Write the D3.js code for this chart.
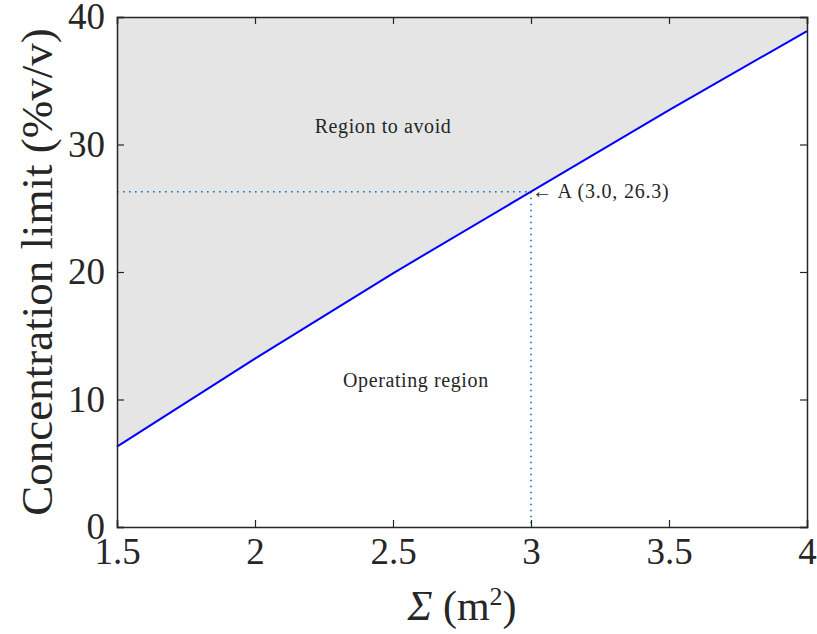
<!DOCTYPE html>
<html>
<head>
<meta charset="utf-8">
<script src="https://cdn.jsdelivr.net/npm/d3@7"></script>
<style>
  body { margin: 0; background: #fff; }
  svg text { font-family: "Liberation Serif", "DejaVu Serif", serif; fill: #262626; }
</style>
</head>
<body>
<div id="wrapper"></div>
<script>
// data
const sigma = [1.5, 2.0, 2.5, 3.0, 3.5, 4.0];
const concLimit = [6.3, 13.2, 19.9, 26.3, 32.7, 38.9];
const xTicks = [1.5, 2, 2.5, 3, 3.5, 4];
const yTicks = [0, 10, 20, 30, 40];
const pointA = {x: 3.0, y: 26.3};

function drawChart() {
    const dataset = sigma.map((s, i) => ({x: s, y: concLimit[i]}));

    //2. dimensions
    const dimensions = {
        width: 817,
        height: 634,
        margin: {top: 17, right: 10, bottom: 107, left: 117}
    };
    dimensions.boundedWidth = dimensions.width - dimensions.margin.left - dimensions.margin.right;
    dimensions.boundedHeight = dimensions.height - dimensions.margin.top - dimensions.margin.bottom;

    //3. canvas
    const wrapper = d3.select('#wrapper')
        .append('svg')
        .attr('width', dimensions.width)
        .attr('height', dimensions.height);
    const bounds = wrapper.append('g')
        .attr('transform', `translate(${dimensions.margin.left},${dimensions.margin.top})`);

    //4. scales
    const xScale = d3.scaleLinear().domain([1.5, 4]).range([0, dimensions.boundedWidth]);
    const yScale = d3.scaleLinear().domain([0, 40]).range([dimensions.boundedHeight, 0]);

    //5. data
    const area = d3.area()
        .x(d => xScale(d.x))
        .y0(yScale(40))
        .y1(d => yScale(d.y));
    bounds.append('path')
        .datum(dataset)
        .attr('d', area)
        .attr('fill', '#e5e5e5');

    // dotted guides to point A
    bounds.append('line')
        .attr('x1', xScale(1.5)).attr('x2', xScale(pointA.x))
        .attr('y1', yScale(pointA.y)).attr('y2', yScale(pointA.y))
        .attr('stroke', '#0072bd').attr('stroke-width', 1.6)
        .attr('stroke-dasharray', '1.6 4.4');
    bounds.append('line')
        .attr('x1', xScale(pointA.x)).attr('x2', xScale(pointA.x))
        .attr('y1', yScale(pointA.y)).attr('y2', yScale(0))
        .attr('stroke', '#0072bd').attr('stroke-width', 1.6)
        .attr('stroke-dasharray', '1.6 4.4');

    const line = d3.line().x(d => xScale(d.x)).y(d => yScale(d.y));
    bounds.append('path')
        .datum(dataset)
        .attr('d', line)
        .attr('fill', 'none')
        .attr('stroke', '#0000ff')
        .attr('stroke-width', 2);

    //6. peripherals
    const tickFont = '37px';
    const xAxis = bounds.append('g')
        .attr('transform', `translate(0,${dimensions.boundedHeight})`)
        .call(d3.axisBottom(xScale).tickValues(xTicks).tickSize(-7).tickPadding(11)
            .tickFormat(d3.format('')));
    const xTop = bounds.append('g')
        .call(d3.axisTop(xScale).tickValues(xTicks).tickSize(-7).tickFormat(''));
    const yAxis = bounds.append('g')
        .call(d3.axisLeft(yScale).tickValues(yTicks).tickSize(-7).tickPadding(12));
    const yRight = bounds.append('g')
        .attr('transform', `translate(${dimensions.boundedWidth},0)`)
        .call(d3.axisRight(yScale).tickValues(yTicks).tickSize(-7).tickFormat(''));

    [xAxis, xTop, yAxis, yRight].forEach(a => {
        a.select('.domain').attr('stroke', '#262626').attr('stroke-width', 1.5);
        a.selectAll('.tick line').attr('stroke', '#262626').attr('stroke-width', 1.2);
        a.selectAll('.tick text')
            .style('font-size', tickFont)
            .style('font-family', '"Liberation Serif", serif')
            .attr('fill', '#262626');
    });
    xAxis.selectAll('.tick text').attr('dy', '0.71em');

    // axis labels
    wrapper.append('text')
        .attr('transform', `translate(52,${dimensions.margin.top + dimensions.boundedHeight / 2}) rotate(-90)`)
        .attr('text-anchor', 'middle')
        .style('font-size', '45px')
        .text('Concentration limit (%v/v)');
    const xLabel = wrapper.append('text')
        .attr('x', dimensions.margin.left + dimensions.boundedWidth / 2)
        .attr('y', 620)
        .attr('text-anchor', 'middle')
        .style('font-size', '42px');
    xLabel.append('tspan').style('font-style', 'italic').text('Σ');
    xLabel.append('tspan').text(' (m');
    xLabel.append('tspan').attr('dy', -15).style('font-size', '26px').text('2');
    xLabel.append('tspan').attr('dy', 15).text(')');

    // annotations
    const annFont = '20px';
    bounds.append('text')
        .attr('x', xScale(2.464)).attr('y', yScale(30.9))
        .attr('text-anchor', 'middle')
        .style('font-size', annFont)
        .style('letter-spacing', '0.6px')
        .text('Region to avoid');
    bounds.append('text')
        .attr('x', xScale(2.583)).attr('y', yScale(10.98))
        .attr('text-anchor', 'middle')
        .style('font-size', annFont)
        .style('letter-spacing', '0.6px')
        .text('Operating region');
    bounds.append('text')
        .attr('x', xScale(pointA.x) + 1).attr('y', yScale(pointA.y) + 6)
        .style('font-size', annFont)
        .style('letter-spacing', '0.8px')
        .text('\u2190 A (3.0, 26.3)');
}

drawChart();
</script>
</body>
</html>
